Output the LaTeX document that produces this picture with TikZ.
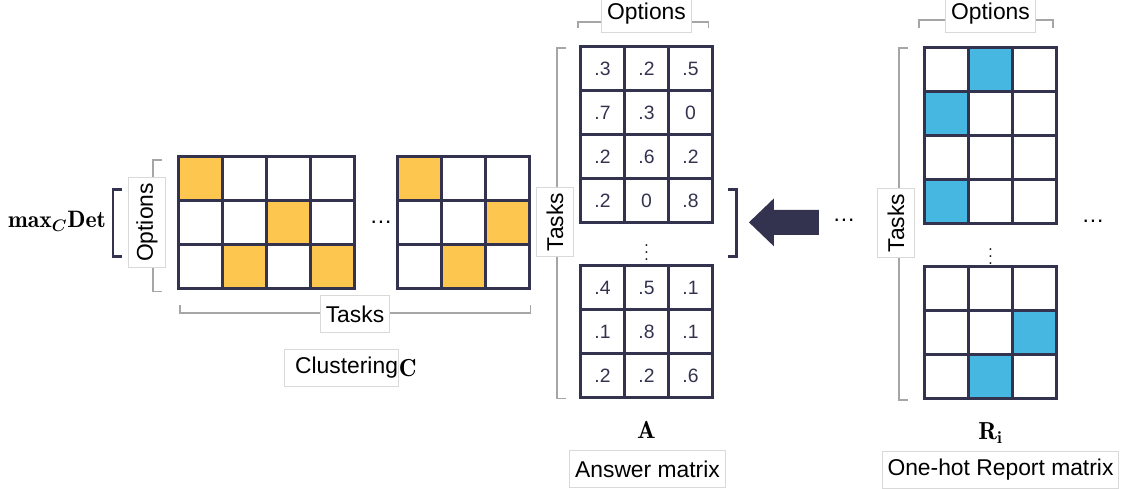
\RequirePackage{fix-cm}
\documentclass[tikz,border=0pt]{standalone}
\usepackage{amsmath}
\usepackage{fontspec}
\setsansfont{Liberation Sans}
\usepackage{tikz}
\usetikzlibrary{matrix}
\usetikzlibrary{calc}
\definecolor{gridnavy}{HTML}{34334F}
\definecolor{pickyellow}{HTML}{FDC64F}
\definecolor{pickblue}{HTML}{46B7E1}
\definecolor{boxgray}{HTML}{D9D9D9}
\definecolor{bracegray}{HTML}{A6A6A6}

\begin{document}
\begin{tikzpicture}[x=0.02cm, y=-0.02cm,
    cellgrid/.style={matrix of nodes, nodes in empty cells, anchor=north west,
        inner sep=0pt, outer sep=0pt, row sep=-1.7pt, column sep=-1.7pt,
        nodes={draw=gridnavy, line width=1.7pt, minimum size=0.88cm, inner sep=0pt,
            text=gridnavy, font=\sffamily\fontsize{11}{13}\selectfont}},
    yelcell/.style={fill=pickyellow},
    bluecell/.style={fill=pickblue},
    labelbox/.style={draw=boxgray, fill=white, line width=0.5pt, inner xsep=3pt,
        minimum height=0.74cm, font=\sffamily\fontsize{13}{15}\selectfont},
    graybrace/.style={draw=bracegray, line width=0.6pt},
    darkbrace/.style={draw=gridnavy, line width=1.7pt},
    boldlabel/.style={font=\fontsize{14}{16}\selectfont},
    dotsnode/.style={font=\sffamily\fontsize{13}{15}\selectfont, inner sep=0pt}]
    \useasboundingbox (0,0) rectangle (1125,488);

    % clustering grids
    \matrix (clA) [cellgrid] at (177,155) {
        |[yelcell]| & & & \\
        & & |[yelcell]| & \\
        & |[yelcell]| & & |[yelcell]| \\
    };
    \matrix (clB) [cellgrid] at (396,155) {
        |[yelcell]| & & \\
        & & |[yelcell]| \\
        & |[yelcell]| & \\
    };
    \node[dotsnode] (dotsC) at ($(clA.east)!0.5!(clB.west)+(5,0)$) {\dots};

    \draw[graybrace] ($(clA.north west)+(-15,5)$) -| ($(clA.south west)+(-24,2)$) -- ++(9,0);
    \node[labelbox, rotate=90] (optC) at ($(clA.west)+(-30,0)$) {Options};
    \draw[darkbrace] ($(clA.west)+(-55,-33)$) -| ($(clA.west)+(-64,34)$) -- ++(9,0);
    \node[boldlabel, font=\fontsize{13.5}{16}\selectfont] (maxdet) at ($(clA.west)+(-120,-1)$) {$\mathbf{max}_{\boldsymbol{C}}\mathbf{Det}$};

    \draw[graybrace] ($(clA.south west)+(3,15)$) |- ($(clB.south east)+(0,23)$) -- ++(0,-8);
    \node[labelbox] (tasksC) at ($(clA.south west)!0.5!(clB.south east)+(1,24)$) {Tasks};
    \node[labelbox, inner xsep=0pt, text width=2.28cm, align=right] (clust) at ($(clA.south west)!0.5!(clB.south east)+(-13,78)$) {Clustering};
    \node[boldlabel, anchor=west, inner sep=0pt] (clustC) at (clust.east) {$\mathbf{C}$};

    % answer matrix
    \matrix (aTop) [cellgrid] at (579,45) {
        .3 & .2 & .5 \\
        .7 & .3 & 0 \\
        .2 & .6 & .2 \\
        .2 & 0 & .8 \\
    };
    \matrix (aBot) [cellgrid] at (579,264) {
        .4 & .5 & .1 \\
        .1 & .8 & .1 \\
        .2 & .2 & .6 \\
    };
    \node[inner sep=0pt] (dotsA) at ($(aTop.south)!0.5!(aBot.north)+(0,3)$) {$\vdots$};

    \draw[graybrace] ($(aTop.north west)+(-1,-17)$) |- ($(aTop.north east)+(-5,-23)$) -- ++(0,6);
    \node[labelbox] (optA) at ($(aTop.north)+(0,-31)$) {Options};
    \draw[graybrace] ($(aTop.north west)+(-13,3)$) -| ($(aBot.south west)+(-22,-1)$) -- ++(9,0);
    \node[labelbox, rotate=90] (tasksA) at ($(aTop.north west)!0.5!(aBot.south west)+(-24,0)$) {Tasks};
    \node[boldlabel] (labA) at ($(aBot.south)+(0,31)$) {$\mathbf{A}$};
    \node[labelbox] (nameA) at ($(aBot.south)+(1,70)$) {Answer matrix};

    \draw[darkbrace] ($(aTop.south east)+(14,-35)$) -| ($(aTop.south east)+(23,32)$) -- ++(-9,0);
    \coordinate (tip) at ($(aTop.south east)+(35,-2)$);
    \fill[gridnavy] (tip) -- ++(25,-24) -- ++(0,11.5) -- ++(45,0) -- ++(0,25) -- ++(-45,0) -- ++(0,11.5) -- cycle;
    \node[dotsnode] (dotsR1) at ($(tip)+(95,-2)$) {\dots};

    % one-hot report matrix
    \matrix (rTop) [cellgrid] at (923,46) {
        & |[bluecell]| & \\
        |[bluecell]| & & \\
        & & \\
        |[bluecell]| & & \\
    };
    \matrix (rBot) [cellgrid] at (923,265) {
        & & \\
        & & |[bluecell]| \\
        & |[bluecell]| & \\
    };
    \node[inner sep=0pt] (dotsR) at ($(rTop.south)!0.5!(rBot.north)+(0,6)$) {$\vdots$};
    \node[dotsnode] (dotsR2) at ($(rTop.south east)+(35,-4)$) {\dots};

    \draw[graybrace] ($(rTop.north west)+(-4,-18)$) |- ($(rTop.north east)+(-5,-26)$) -- ++(0,8);
    \node[labelbox] (optR) at ($(rTop.north)+(0,-32)$) {Options};
    \draw[graybrace] ($(rTop.north west)+(-15,2)$) -| ($(rBot.south west)+(-24,0)$) -- ++(9,0);
    \node[labelbox, rotate=90] (tasksR) at ($(rTop.north west)!0.5!(rBot.south west)+(-27,0)$) {Tasks};
    \node[boldlabel] (labR) at ($(rBot.south)+(0,33)$) {$\mathbf{R}_{\mathbf{i}}$};
    \node[labelbox] (nameR) at ($(rBot.south)+(10,70)$) {One-hot Report matrix};
\end{tikzpicture}
\end{document}
